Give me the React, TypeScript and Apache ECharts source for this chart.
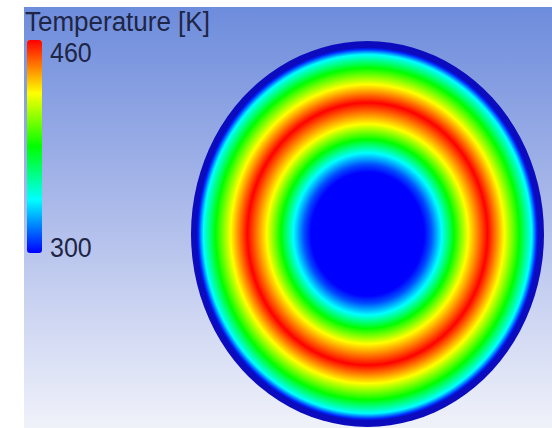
import React, { useEffect, useRef } from 'react';
import * as echarts from 'echarts';

// Legend / colour map
const TITLE = 'Temperature [K]';
const T_MIN = 300;
const T_MAX = 460;
const TICK_LABELS = ['460', '300'];
const COLOR_VALUES = [300, 340, 380, 420, 460];
const COLOR_RAMP = ['#0000ff', '#00ffff', '#00ff00', '#ffff00', '#ff0000'];

// Radial temperature profile (normalised radius -> K)
const PROFILE_R = [0, 0.32, 0.36, 0.42, 0.49, 0.57, 0.68, 0.775, 0.86, 0.93, 0.958];
const PROFILE_T = [300, 300, 312, 340, 380, 420, 460, 420, 380, 340, 306];

// Disc: centre (x, y), radius, wall temperature
const DISC = [[0, 0, 1, 300]];

function hexToRgb(h: string) {
  const n = parseInt(h.slice(1), 16);
  return [(n >> 16) & 255, (n >> 8) & 255, n & 255];
}

function colorFor(t: number) {
  const v = Math.max(T_MIN, Math.min(T_MAX, t));
  let i = 0;
  while (i < COLOR_VALUES.length - 2 && v > COLOR_VALUES[i + 1]) i++;
  const f = (v - COLOR_VALUES[i]) / (COLOR_VALUES[i + 1] - COLOR_VALUES[i]);
  const a = hexToRgb(COLOR_RAMP[i]);
  const b = hexToRgb(COLOR_RAMP[i + 1]);
  const c = a.map((x, k) => Math.round(x + (b[k] - x) * f));
  return `rgb(${c[0]},${c[1]},${c[2]})`;
}

const BORDER_START = 0.967;
const BORDER_COLOR = '#0c0cbe';
const TEXT_COLOR = '#1e2545';
const FONT = '"Liberation Sans", Arial, sans-serif';

export default function App() {
  const ref = useRef<HTMLDivElement>(null);

  useEffect(() => {
    document.body.style.margin = '0';
    const chart = echarts.init(ref.current!, null, { renderer: 'svg' });

    const stops: { offset: number; color: string }[] = PROFILE_R.map((r, i) => ({
      offset: r,
      color: colorFor(PROFILE_T[i]),
    }));
    stops.push({ offset: BORDER_START, color: BORDER_COLOR });
    stops.push({ offset: 1, color: BORDER_COLOR });

    const label = (text: string, x: number, y: number, size: number, sy: number) => ({
      type: 'text',
      x,
      y,
      scaleY: sy,
      style: {
        text,
        fontSize: size,
        fontFamily: FONT,
        fill: TEXT_COLOR,
        verticalAlign: 'middle',
      },
    });

    chart.setOption({
      animation: false,
      graphic: [
        {
          type: 'rect',
          z: -10,
          shape: { x: 24, y: 7, width: 528, height: 421 },
          style: {
            fill: new echarts.graphic.LinearGradient(0, 0, 0, 1, [
              { offset: 0, color: '#6d8cdc' },
              { offset: 0.45, color: '#a8b7e9' },
              { offset: 1, color: '#f0f2fa' },
            ]),
          },
        },
        label(TITLE, 25, 22, 26, 1.03),
        label(TICK_LABELS[0], 50, 52.5, 25, 1.07),
        label(TICK_LABELS[1], 50, 247.5, 25, 1.07),
      ],
      grid: { left: 191, top: 41, width: 353, height: 386 },
      xAxis: { type: 'value', min: -1, max: 1, show: false },
      yAxis: { type: 'value', min: -1, max: 1, show: false },
      visualMap: {
        type: 'continuous',
        min: T_MIN,
        max: T_MAX,
        left: 27,
        top: 40,
        itemWidth: 15,
        itemHeight: 213,
        padding: 0,
        calculable: false,
        seriesIndex: 0,
        dimension: 3,
        inRange: { color: COLOR_RAMP },
        textStyle: { color: 'transparent' },
      },
      series: [
        {
          type: 'custom',
          coordinateSystem: 'cartesian2d',
          data: DISC,
          silent: true,
          renderItem: (params: any, api: any) => {
            const c = api.coord([api.value(0), api.value(1)]);
            const s = api.size([api.value(2), api.value(2)]);
            const rx = s[0];
            const ry = s[1];
            return {
              type: 'circle',
              x: c[0],
              y: c[1],
              scaleY: ry / rx,
              shape: { cx: 0, cy: 0, r: rx },
              style: {
                fill: new echarts.graphic.RadialGradient(0.5, 0.5, 0.5, stops),
              },
            };
          },
        },
      ],
    });

    return () => chart.dispose();
  }, []);

  return <div ref={ref} style={{ width: 552, height: 428, background: '#ffffff' }} />;
}
